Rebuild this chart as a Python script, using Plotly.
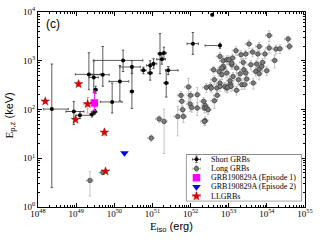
import plotly.graph_objects as go

# ---------------- data ----------------
# Short GRBs: Eiso (erg), Ep,z (keV) and error-bar ends
s_eiso = [2.3e48, 8.7e48, 1.26e49, 2.6e49, 3.1e49, 3.24e49, 2.16e49, 2.9e49, 5.0e49,
          1.7e50, 1.4e50, 8.8e49, 2.9e50, 5.8e50, 8.7e50, 8.7e50, 1.07e51, 1.58e51,
          2.0e51, 1.77e51, 2.6e51, 2.3e51, 1.15e52, 3.7e52, 5.9e52, 2.9e50]
s_ep = [102, 91, 76, 80, 90, 255, 525, 455, 517,
        1016, 377, 143, 745, 635, 560, 800, 870, 1400,
        1440, 1070, 635, 350, 2240, 8800, 2050, 234]
s_eiso_lo = [1.4e48, 5.4e48, 1.0e49, 2.3e49, 2.8e49, 2.9e49, 9.5e48, 2.2e49, 2.6e49,
             2.9e49, 7.3e49, 4.3e49, 1.4e50, 5.0e50, 7.5e50, 7.0e50, 9.0e50, 1.4e51,
             1.8e51, 1.3e51, 2.2e51, 2.0e51, 8.1e51, 3.5e52, 2.4e52, 2.6e50]
s_eiso_hi = [6.2e48, 1.6e49, 2.6e49, 3.0e49, 3.5e49, 3.6e49, 4.3e49, 3.8e49, 7.3e49,
             5.6e50, 2.4e50, 1.6e50, 4.8e50, 6.8e50, 1.0e51, 1.1e51, 1.3e51, 1.8e51,
             2.3e51, 2.2e51, 4.7e51, 2.6e51, 1.6e52, 3.9e52, 6.2e52, 3.2e50]
s_ep_lo = [2.5, 49, 65, 70, 80, 215, 255, 220, 300,
           600, 150, 85, 550, 540, 400, 650, 700, 540,
           1100, 850, 520, 180, 1350, 8300, 1800, 105]
s_ep_hi = [857, 145, 90, 92, 100, 300, 1460, 1000, 1960,
           1650, 800, 350, 1000, 740, 750, 1000, 1100, 3600,
           1900, 1350, 760, 640, 3800, 9300, 2300, 800]

# Long GRBs: Eiso (erg), Ep,z (keV), relative Ep error
l_eiso = [1.50e51, 2.02e51, 4.6e51, 6.5e51, 6.2e51, 5.6e51, 5.9e51, 8.8e51, 9.7e51, 1.0e52,
          1.07e52, 1.5e52, 1.5e52, 2.2e52, 2.4e52, 2.3e52, 2.6e52, 2.4e52, 2.9e52, 2.6e52,
          3.3e52, 3.5e52, 4.0e52, 4.2e52, 4.2e52, 5.0e52, 4.9e52, 5.9e52, 5.9e52, 5.6e52,
          6.6e52, 7.2e52, 7.2e52, 7.9e52, 8.9e52, 8.9e52, 8.9e52, 9.4e52, 1.1e53, 1.08e53,
          1.2e53, 1.15e53, 1.26e53, 1.2e53, 1.3e53, 1.55e53, 1.6e53, 1.6e53, 1.8e53, 2.0e53,
          2.1e53, 2.2e53, 2.4e53, 2.5e53, 2.6e53, 2.8e53, 2.8e53, 2.95e53, 3.4e53, 3.8e53,
          4.2e53, 4.4e53, 5.1e53, 5.4e53, 5.8e53, 6.3e53, 6.3e53, 6.3e53, 7.3e53, 7.7e53,
          8.9e53, 9.9e53, 1.15e54, 1.15e54, 1.6e54, 1.73e54, 2.2e54, 3.6e54, 3.9e54, 9.3e50,
          2.3e49, 5.0e49, 2.3e52, 5.9e52, 7.2e52, 6.6e52, 1.0e53]
l_ep = [64, 57, 72, 72, 99, 195, 147, 290, 130, 195,
        110, 201, 107, 147, 121, 107, 107, 59, 99, 284,
        298, 276, 655, 408, 151, 195, 276, 350, 298, 603,
        517, 1000, 710, 298, 1048, 561, 276, 284, 335, 390,
        830, 298, 1140, 900, 478, 1610, 710, 248, 408, 542,
        1330, 323, 925, 655, 323, 1375, 561, 422, 2210, 830,
        1510, 350, 605, 857, 1375, 1970, 677, 542, 765, 925,
        1375, 625, 3310, 1830, 1016, 1740, 1770, 2790, 1970, 26,
        3.5, 5.1, 57, 1228, 765, 710, 1048]
l_ep_relerr = [0.15, 0.78, 0.6, 0.25, 0.2, 0.2, 0.25, 0.5, 0.3, 0.2,
               0.2, 0.4, 0.3, 0.2, 0.2, 0.2, 0.2, 0.2, 0.2, 0.2,
               0.2, 0.2, 0.15, 0.2, 0.3, 0.2, 0.2, 0.2, 0.2, 0.2,
               0.2, 0.2, 0.2, 0.2, 0.2, 0.2, 0.2, 0.2, 0.2, 0.2,
               0.2, 0.2, 0.2, 0.2, 0.2, 0.2, 0.2, 0.2, 0.2, 0.2,
               0.2, 0.2, 0.2, 0.2, 0.2, 0.2, 0.2, 0.2, 0.2, 0.2,
               0.2, 0.25, 0.2, 0.2, 0.2, 0.2, 0.2, 0.25, 0.2, 0.2,
               0.2, 0.2, 0.25, 0.2, 0.3, 0.2, 0.2, 0.15, 0.15, 0.15,
               0.52, 0.05, 0.15, 0.2, 0.2, 0.2, 0.2]
l_eiso_relerr = 0.2

# GRB190829A episodes
ep1_eiso, ep1_ep, ep1_ep_lo, ep1_ep_hi = [3.0e49], [136], [95], [240]
ep2_eiso, ep2_ep = [1.85e50], [12.8]

# Low-luminosity GRBs
ll_eiso = [1.55e48, 1.16e49, 2.0e49, 9.6e48, 5.5e49, 5.9e49]
ll_ep = [147, 333, 130, 62, 34, 5.4]
ll_ep_relerr = [0.1, 0.1, 0.35, 0.1, 0.15, 0.1]
ll_eiso_relerr = [0.1, 0.1, 0.2, 0.1, 0.1, 0.1]

x_tick_vals = [1e48, 1e49, 1e50, 1e51, 1e52, 1e53, 1e54, 1e55]
x_tick_text = ["10<sup>48</sup>", "10<sup>49</sup>", "10<sup>50</sup>", "10<sup>51</sup>",
               "10<sup>52</sup>", "10<sup>53</sup>", "10<sup>54</sup>", "10<sup>55</sup>"]
y_tick_vals = [1, 10, 100, 1000, 10000]
y_tick_text = ["10<sup>0</sup>", "10<sup>1</sup>", "10<sup>2</sup>", "10<sup>3</sup>", "10<sup>4</sup>"]

legend_labels = ["Short GRBs", "Long GRBs", "GRB190829A (Episode 1)",
                 "GRB190829A (Episode 2)", "LLGRBs"]
x_title = "<span style='font-family:Liberation Serif'>E</span><sub>iso</sub> (erg)"
y_title = "<span style='font-family:Liberation Serif'>E</span><sub>p,z</sub> (keV)"
panel_label = "(c)"

# ---------------- styles ----------------
SERIF = "Liberation Serif"
SANS = "Liberation Sans"
short_style = dict(marker=dict(symbol="circle", size=4, color="black"),
                   bar="#333333")
long_style = dict(marker=dict(symbol="circle", size=4.5, color="#7a7a7a",
                              line=dict(color="#2a2a2a", width=0.6)),
                  bar="#b5b5b5")
ep1_style = dict(marker=dict(symbol="square", size=7.5, color="#ff00ff"), bar="#ff00ff")
ep2_style = dict(marker=dict(symbol="triangle-down", size=7.5, color="#0000ff"), bar=None)
ll_style = dict(marker=dict(symbol="star", size=6.5, color="#e00000",
                            line=dict(color="#800000", width=0.4)),
                bar="#ff8a8a")

fig = go.Figure()

fig.add_trace(go.Scatter(
    x=l_eiso, y=l_ep, mode="markers", name=legend_labels[1],
    marker=long_style["marker"],
    error_x=dict(type="percent", value=l_eiso_relerr * 100,
                 color=long_style["bar"], thickness=0.8, width=1.2),
    error_y=dict(type="data", array=[v * r for v, r in zip(l_ep, l_ep_relerr)],
                 color=long_style["bar"], thickness=0.8, width=1.2),
))

fig.add_trace(go.Scatter(
    x=s_eiso, y=s_ep, mode="markers", name=legend_labels[0],
    marker=short_style["marker"],
    error_x=dict(type="data", symmetric=False,
                 array=[h - v for h, v in zip(s_eiso_hi, s_eiso)],
                 arrayminus=[v - l for l, v in zip(s_eiso_lo, s_eiso)],
                 color=short_style["bar"], thickness=0.8, width=1.2),
    error_y=dict(type="data", symmetric=False,
                 array=[h - v for h, v in zip(s_ep_hi, s_ep)],
                 arrayminus=[v - l for l, v in zip(s_ep_lo, s_ep)],
                 color=short_style["bar"], thickness=0.8, width=1.2),
))

fig.add_trace(go.Scatter(
    x=ep1_eiso, y=ep1_ep, mode="markers", name=legend_labels[2],
    marker=ep1_style["marker"],
    error_y=dict(type="data", symmetric=False,
                 array=[h - v for h, v in zip(ep1_ep_hi, ep1_ep)],
                 arrayminus=[v - l for l, v in zip(ep1_ep_lo, ep1_ep)],
                 color=ep1_style["bar"], thickness=1, width=1.5),
))

fig.add_trace(go.Scatter(
    x=ep2_eiso, y=ep2_ep, mode="markers", name=legend_labels[3],
    marker=ep2_style["marker"],
))

fig.add_trace(go.Scatter(
    x=ll_eiso, y=ll_ep, mode="markers", name=legend_labels[4],
    marker=ll_style["marker"],
    error_x=dict(type="data", array=[v * r for v, r in zip(ll_eiso, ll_eiso_relerr)],
                 color=ll_style["bar"], thickness=1, width=1.2),
    error_y=dict(type="data", array=[v * r for v, r in zip(ll_ep, ll_ep_relerr)],
                 color=ll_style["bar"], thickness=1, width=1.2),
))

# ---------------- compact legend on an overlay axis ----------------
LEG_X0, LEG_X1, LEG_Y0, LEG_Y1 = 0.556, 0.987, 0.032, 0.268
n = len(legend_labels)
leg_rows = [1 - (i + 0.5) / n for i in range(n)]
for lab, row, st in zip(legend_labels, leg_rows,
                        [short_style, long_style, ep1_style, ep2_style, ll_style]):
    kw = {}
    if st["bar"] is not None and st is not ep1_style:
        kw["error_x"] = dict(type="constant", value=0.035, color=st["bar"], thickness=0.8, width=1.2)
        kw["error_y"] = dict(type="constant", value=0.07, color=st["bar"], thickness=0.8, width=1.2)
    fig.add_trace(go.Scatter(x=[0.087], y=[row], xaxis="x2", yaxis="y2", mode="markers",
                             marker=st["marker"], showlegend=False, hoverinfo="skip", **kw))
    fig.add_annotation(text=lab, xref="x2", yref="y2", x=0.2, y=row,
                       xanchor="left", yanchor="middle", showarrow=False,
                       font=dict(family=SERIF, size=8, color="black"))

fig.add_shape(type="rect", xref="paper", yref="paper",
              x0=LEG_X0, x1=LEG_X1, y0=LEG_Y0, y1=LEG_Y1,
              line=dict(color="#333333", width=1), fillcolor="white", layer="below")

axis_common = dict(
    type="log", showgrid=False, zeroline=False, showline=True, automargin=False,
    linecolor="black", linewidth=1, mirror="allticks",
    ticks="inside", ticklen=4, tickcolor="black", tickwidth=0.8,
    tickfont=dict(family=SERIF, size=9, color="black"),
    minor=dict(ticks="inside", ticklen=2, tickcolor="black", tickwidth=0.6,
               dtick="D1", showgrid=False),
)

fig.update_layout(
    width=320, height=240,
    margin=dict(l=38, r=15, t=12, b=33),
    paper_bgcolor="white", plot_bgcolor="white",
    showlegend=False,
    xaxis=dict(**axis_common, range=[48, 55], tickmode="array",
               tickvals=x_tick_vals, ticktext=x_tick_text, domain=[0, 1],
               ticklabelstandoff=-2),
    yaxis=dict(**axis_common, range=[0, 4], tickmode="array",
               tickvals=y_tick_vals, ticktext=y_tick_text, domain=[0, 1]),
    xaxis2=dict(domain=[LEG_X0, LEG_X1], range=[0, 1], anchor="y2", visible=False,
                fixedrange=True),
    yaxis2=dict(domain=[LEG_Y0, LEG_Y1], range=[0, 1], anchor="x2", visible=False,
                fixedrange=True),
)

# axis titles and panel label
fig.add_annotation(text=x_title, xref="paper", yref="paper", x=0.5, y=-0.1,
                   xanchor="center", yanchor="middle", showarrow=False,
                   font=dict(family=SANS, size=11, color="black"))
fig.add_annotation(text=y_title, xref="paper", yref="paper", x=-0.104, y=0.47,
                   xanchor="center", yanchor="middle", showarrow=False, textangle=-90,
                   font=dict(family=SANS, size=11, color="black"))
fig.add_annotation(text=panel_label, xref="paper", yref="paper", x=0.022, y=0.985,
                   xanchor="left", yanchor="top", showarrow=False,
                   font=dict(family=SANS, size=12, color="black"))

fig.write_html("out.html", config={"displayModeBar": False},
               post_script="document.body.style.margin='0';document.body.style.padding='0';")
